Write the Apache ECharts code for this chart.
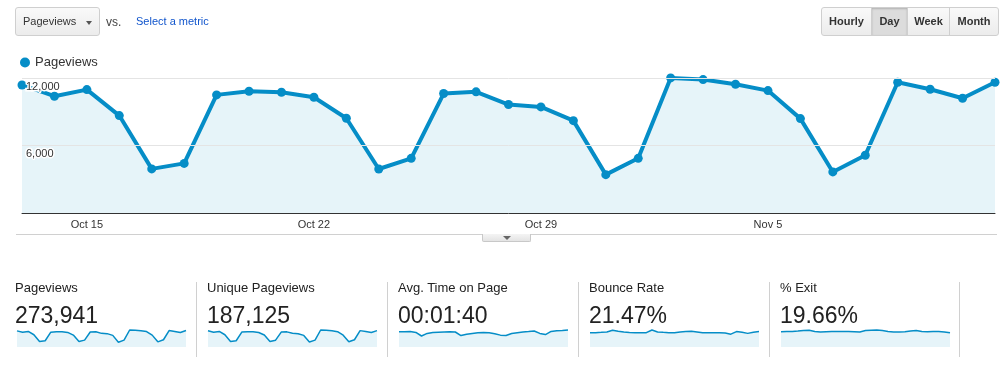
<!DOCTYPE html>
<html>
<head>
<meta charset="utf-8">
<script src="https://cdn.jsdelivr.net/npm/echarts@6/dist/echarts.min.js"></script>
<style>
  html, body { margin: 0; padding: 0; }
  body { width: 1007px; height: 367px; background: #fff; position: relative; overflow: hidden;
         font-family: Arial, "Liberation Sans", Helvetica, sans-serif; }
  #chart { position: absolute; left: 0; top: 0; width: 1007px; height: 367px; }
  .abs { position: absolute; white-space: nowrap; }
  .btn { box-sizing: border-box; border: 1px solid #cfcfcf; background: linear-gradient(#f9f9f9, #ececec); }
  .dd { left: 15px; top: 7px; width: 85px; height: 29px; border-radius: 3px; font-size: 11px; color: #333;
        line-height: 27px; padding-left: 7px; }
  .dd .arr { position: absolute; left: 70px; top: 13px; width: 0; height: 0;
             border-left: 3px solid transparent; border-right: 3px solid transparent; border-top: 4px solid #555; }
  .vs { left: 106px; top: 15px; font-size: 12px; color: #444; }
  .sel { left: 136px; top: 15px; font-size: 11px; color: #1155cc; }
  .grp { left: 821px; top: 7px; height: 29px; display: flex; }
  .grp div { box-sizing: border-box; height: 29px; line-height: 27px; font-size: 11px; font-weight: bold; color: #333;
             text-align: center; border: 1px solid #cfcfcf; background: linear-gradient(#f9f9f9, #ececec); margin-left: -1px; }
  .grp div.on { background: #dcdcdc; box-shadow: inset 0 1px 2px rgba(0,0,0,0.2); }
  .grp div:first-child { border-radius: 3px 0 0 3px; margin-left: 0; }
  .grp div:last-child { border-radius: 0 3px 3px 0; }
  .hr { left: 16px; top: 234px; width: 981px; height: 1px; background: #d0d0d0; }
  .tab { left: 482px; top: 234px; width: 49px; height: 8px; box-sizing: border-box; border: 1px solid #c8c8c8; border-top: none;
         border-radius: 0 0 2px 2px; background: linear-gradient(#f4f4f4, #e4e4e4); }
  .tab .arr { position: absolute; left: 20px; top: 2px; width: 0; height: 0;
              border-left: 4px solid transparent; border-right: 4px solid transparent; border-top: 4px solid #666; }
  .vline { width: 1px; top: 282px; height: 75px; background: #d0d0d0; }
  .st { font-size: 13px; color: #222; top: 280px; }
  .sv { font-size: 23px; color: #222; top: 302px; }
</style>
</head>
<body>
<div id="chart"></div>

<div class="abs btn dd">Pageviews<span class="arr"></span></div>
<div class="abs vs">vs.</div>
<div class="abs sel">Select a metric</div>
<div class="abs grp">
  <div style="width:51px">Hourly</div>
  <div class="on" style="width:37px">Day</div>
  <div style="width:43px">Week</div>
  <div style="width:50px">Month</div>
</div>
<div class="abs hr"></div>
<div class="abs tab"><span class="arr"></span></div>

<div id="cards"></div>

<script>
// ---------------- data ----------------
const categories = ['Oct 13','Oct 14','Oct 15','Oct 16','Oct 17','Oct 18','Oct 19','Oct 20','Oct 21','Oct 22',
  'Oct 23','Oct 24','Oct 25','Oct 26','Oct 27','Oct 28','Oct 29','Oct 30','Oct 31','Nov 1',
  'Nov 2','Nov 3','Nov 4','Nov 5','Nov 6','Nov 7','Nov 8','Nov 9','Nov 10','Nov 11','Nov 12'];
const xTickLabels = ['Oct 15', 'Oct 22', 'Oct 29', 'Nov 5'];
const yTickValues = [6000, 12000];

const pageviews = [11380, 10380, 10970, 8660, 3920, 4410, 10500, 10820, 10730, 10290, 8420, 3910, 4860, 10620, 10770,
  9640, 9430, 8210, 3410, 4860, 12010, 11860, 11440, 10880, 8390, 3650, 5130, 11620, 11000, 10200, 11620];
const uniquePageviews = [7800, 7100, 7500, 5900, 2700, 3000, 7200, 7400, 7300, 7000, 5800, 2700, 3300, 7200, 7300,
  6600, 6400, 5600, 2400, 3300, 8200, 8100, 7800, 7400, 5700, 2500, 3500, 7900, 7500, 7000, 7900];
const avgTimeOnPage = [107, 107, 108, 102, 77, 95, 102, 104, 105, 106, 105, 80, 89, 95, 100,
  101, 100, 93, 83, 81, 95, 100, 105, 108, 112, 95, 87, 109, 114, 115, 119];
const bounceRate = [20.7, 20.7, 21.2, 21.8, 24.3, 22.8, 21.8, 21.0, 20.7, 20.7, 20.7, 24.6, 21.8, 21.2, 20.7,
  20.7, 21.8, 22.3, 22.8, 21.8, 20.7, 20.7, 20.7, 20.7, 20.2, 18.6, 22.3, 21.2, 19.7, 21.2, 22.3];
const exitRate = [19.2, 19.4, 19.6, 20.1, 20.7, 21.1, 19.6, 18.8, 19.2, 19.6, 19.6, 19.6, 19.6, 19.2, 18.8,
  20.7, 21.1, 21.4, 20.7, 19.6, 19.0, 18.8, 19.2, 20.1, 20.9, 19.6, 19.2, 19.4, 19.6, 19.0, 17.9];

const cardTitles = ['Pageviews', 'Unique Pageviews', 'Avg. Time on Page', 'Bounce Rate', '% Exit'];
const cardValues = ['273,941', '187,125', '00:01:40', '21.47%', '19.66%'];
const sparkSeries = [pageviews, uniquePageviews, avgTimeOnPage, bounceRate, exitRate];

// ---------------- layout ----------------
const BLUE = '#058dc7';
const FILL = '#e6f4f9';
const cardX = [15, 207, 398, 589, 780];
const sparkLeft = [17, 208, 399, 590, 781];
const sparkW = 169;
const dividerX = [196, 387, 578, 769, 959];

const cards = document.getElementById('cards');
cardTitles.forEach((t, i) => {
  const a = document.createElement('div'); a.className = 'abs st'; a.style.left = cardX[i] + 'px'; a.textContent = t; cards.appendChild(a);
  const b = document.createElement('div'); b.className = 'abs sv'; b.style.left = cardX[i] + 'px'; b.textContent = cardValues[i]; cards.appendChild(b);
});
dividerX.forEach(x => {
  const d = document.createElement('div'); d.className = 'abs vline'; d.style.left = x + 'px'; cards.appendChild(d);
});

const grids = [{ left: 22, right: 12, top: 78, height: 135 }];
const xAxes = [{
  type: 'category', data: categories, boundaryGap: false, gridIndex: 0, z: 6,
  axisLine: { lineStyle: { color: '#333', width: 1 } },
  axisTick: { show: false },
  axisLabel: {
    interval: (i, v) => xTickLabels.includes(v), color: '#333', fontSize: 11,
    fontFamily: 'Arial, "Liberation Sans", sans-serif', margin: 6
  },
  splitLine: { show: false }
}];
const yAxes = [{
  type: 'value', min: 0, max: 12000, interval: 6000, gridIndex: 0,
  axisLine: { show: false }, axisTick: { show: false },
  splitLine: { lineStyle: { color: '#e4e4e4', width: 1 } },
  axisLabel: {
    inside: true, margin: 4, verticalAlign: 'top', padding: [3, 0, 0, 0],
    color: '#333', fontSize: 11, fontFamily: 'Arial, "Liberation Sans", sans-serif',
    textBorderColor: '#fff', textBorderWidth: 3,
    formatter: v => yTickValues.includes(v) ? v.toLocaleString('en-US') : ''
  },
  z: 5
}];
const series = [{
  name: 'Pageviews', type: 'line', data: pageviews, xAxisIndex: 0, yAxisIndex: 0,
  symbol: 'circle', symbolSize: 9, showSymbol: true, clip: false,
  lineStyle: { color: BLUE, width: 4 }, itemStyle: { color: BLUE },
  areaStyle: { color: FILL, opacity: 1 }, z: 3
}];

sparkSeries.forEach((d, i) => {
  const g = i + 1;
  grids.push({ left: sparkLeft[i], width: sparkW, top: 330, height: 17 });
  xAxes.push({ type: 'category', data: categories, boundaryGap: false, gridIndex: g, show: false });
  yAxes.push({ type: 'value', min: 0, max: 'dataMax', gridIndex: g, show: false, splitLine: { show: false } });
  series.push({
    name: 'spark-' + i, type: 'line', data: d, xAxisIndex: g, yAxisIndex: g, symbol: 'none', clip: false,
    lineStyle: { color: BLUE, width: 1.5 }, areaStyle: { color: FILL, opacity: 1 }
  });
});

const chart = echarts.init(document.getElementById('chart'), null, { renderer: 'canvas' });
chart.setOption({
  animation: false,
  backgroundColor: '#fff',
  legend: {
    data: [{ name: 'Pageviews', icon: 'circle' }], left: 15, top: 51, itemWidth: 10, itemHeight: 10,
    textStyle: { color: '#333', fontSize: 13, fontFamily: 'Arial, "Liberation Sans", sans-serif' },
    selectedMode: false
  },
  grid: grids,
  xAxis: xAxes,
  yAxis: yAxes,
  series: series
});
</script>
</body>
</html>
